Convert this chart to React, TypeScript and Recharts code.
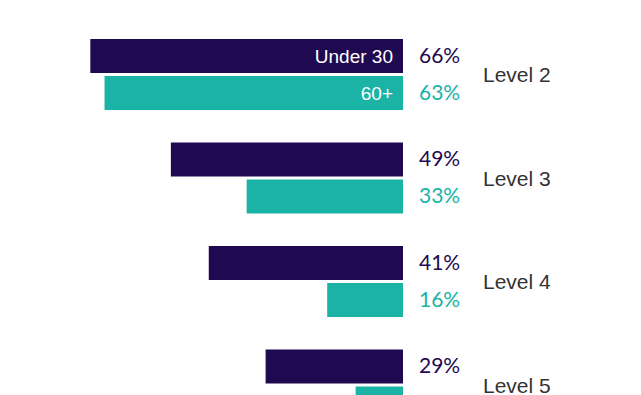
import React from 'react';
import { BarChart, Bar, XAxis, YAxis, LabelList } from 'recharts';

const categories = ['Level 2', 'Level 3', 'Level 4', 'Level 5'];
const under30 = [66, 49, 41, 29];
const over60 = [63, 33, 16, 10];
const seriesNames = ['Under 30', '60+'];

const DARK = '#1f0a52';
const TEAL = '#1ab3a6';

const data = categories.map((level, i) => ({ level, under30: under30[i], over60: over60[i] }));

const makeLabel = (color: string, name: string) => (props: any) => {
  const { x, y, width, height, value, index } = props;
  const right = Math.max(x, x + width);
  const cy = y + height / 2;
  return (
    <g>
      <text
        x={right + 16}
        y={cy}
        dy="0.33em"
        fill={color}
        fontSize={21}
        fontWeight={400}
        fontFamily="Lato, 'Noto Sans', sans-serif"
      >
        {`${value}%`}
      </text>
      {index === 0 ? (
        <text
          x={right - 10}
          y={cy}
          dy="0.36em"
          textAnchor="end"
          fill="#ffffff"
          fontSize={19}
          fontFamily="'Liberation Sans', Arial, sans-serif"
        >
          {name}
        </text>
      ) : null}
    </g>
  );
};

export default function App() {
  return (
    <div style={{ position: 'absolute', left: 0, top: 0, width: 641, height: 395, overflow: 'hidden', background: '#fff' }}>
      <BarChart
        width={641}
        height={440}
        data={data}
        layout="vertical"
        margin={{ top: 23, right: 0, bottom: 3, left: 24 }}
        barSize={34}
        barGap={3}
      >
        <XAxis type="number" domain={[0, 80]} reversed hide />
        <YAxis
          type="category"
          dataKey="level"
          orientation="right"
          width={238}
          axisLine={false}
          tickLine={false}
          tickSize={0}
          tickMargin={80}
          tick={{ fontSize: 21, fill: '#333333', fontFamily: "'Liberation Sans', Arial, sans-serif", textAnchor: 'start' }}
        />
        <Bar dataKey="under30" fill={DARK} isAnimationActive={false}>
          <LabelList dataKey="under30" content={makeLabel(DARK, seriesNames[0])} />
        </Bar>
        <Bar dataKey="over60" fill={TEAL} isAnimationActive={false}>
          <LabelList dataKey="over60" content={makeLabel(TEAL, seriesNames[1])} />
        </Bar>
      </BarChart>
    </div>
  );
}
